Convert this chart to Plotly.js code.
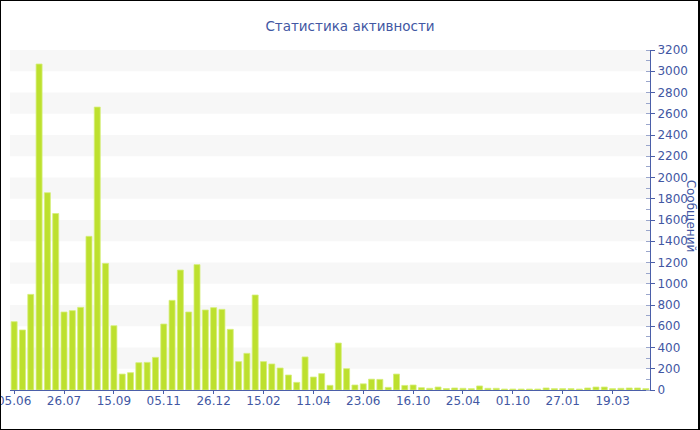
<!DOCTYPE html>
<html>
<head>
<meta charset="utf-8">
<script src="https://cdn.plot.ly/plotly-3.0.1.min.js"></script>
<style>
  html, body { margin: 0; padding: 0; background: #fff; }
  #wrap { position: relative; width: 700px; height: 430px; }
  #chart { width: 700px; height: 430px; }
  #frame { position: absolute; left: 0; top: 0; width: 700px; height: 430px;
           box-sizing: border-box; border: 1px solid #000; border-right-width: 2px;
           pointer-events: none; }
</style>
</head>
<body>
<div id="wrap">
  <div id="chart"></div>
  <div id="frame"></div>
</div>
<script>
// Messages per period (one bar per period, oldest first)
const messages = [
  643, 565, 900, 3068, 1857, 1661, 734, 747, 778, 1446,
  2663, 1192, 605, 150, 163, 257, 260, 307, 621, 844,
  1129, 734, 1180, 753, 775, 759, 571, 267, 345, 894,
  267, 245, 207, 141, 72, 311, 122, 154, 44, 442,
  201, 47, 58, 102, 100, 25, 150, 43, 47, 22,
  16, 28, 14, 19, 16, 13, 38, 16, 16, 9,
  9, 9, 9, 9, 19, 13, 13, 13, 9, 19,
  28, 28, 13, 16, 19, 19, 13
];

// Period index for each bar
const periods = messages.map((_, i) => i);

// Date labels shown under every sixth period
const tickLabels = ['05.06', '26.07', '15.09', '05.11', '26.12', '15.02', '11.04',
                    '23.06', '16.10', '25.04', '01.10', '27.01', '19.03'];
const labelStep = 6;
const tickPositions = tickLabels.map((_, i) => i * labelStep);

// Value axis ticks
const yTicks = [0, 200, 400, 600, 800, 1000, 1200, 1400, 1600, 1800, 2000,
                2200, 2400, 2600, 2800, 3000, 3200];

const blue = '#4257a3';
const axisBlue = '#4b5fa9';
const font = 'DejaVu Sans, Verdana, sans-serif';

// Light stripes behind every other tick interval
const bands = [];
for (let i = 1; i + 1 < yTicks.length; i += 2) {
  bands.push({
    type: 'rect', xref: 'paper', yref: 'y', layer: 'below',
    x0: 0, x1: 1, y0: yTicks[i], y1: yTicks[i + 1],
    fillcolor: '#f7f7f7', line: { width: 0 }
  });
}

const trace = {
  type: 'bar',
  x: periods,
  y: messages,
  marker: { color: '#bde02e', line: { color: '#d6ef7a', width: 0.8 } },
  hoverinfo: 'y'
};

const layout = {
  width: 700,
  height: 430,
  margin: { l: 10, r: 50, t: 50, b: 40, pad: 0 },
  paper_bgcolor: '#fff',
  plot_bgcolor: '#fff',
  bargap: 0.28,
  showlegend: false,
  title: {
    text: 'Статистика активности',
    font: { family: font, size: 13.5, color: blue },
    x: 0.5, xanchor: 'center', y: 0.94, yanchor: 'middle', yref: 'container'
  },
  xaxis: {
    type: 'linear',
    range: [-0.5, messages.length - 0.5],
    tickmode: 'array',
    tickvals: tickPositions,
    ticktext: tickLabels,
    ticks: 'outside', ticklen: 3, tickcolor: axisBlue,
    ticklabeloverflow: 'allow',
    ticklabelstandoff: -3,
    showline: true, linecolor: axisBlue, linewidth: 1,
    showgrid: false, zeroline: false,
    tickfont: { family: font, size: 12, color: blue },
    fixedrange: true
  },
  yaxis: {
    side: 'right',
    range: [0, 3200],
    tickmode: 'array',
    tickvals: yTicks,
    ticks: 'outside', ticklen: 4, tickcolor: axisBlue,
    minor: { dtick: 100, ticks: 'inside', ticklen: 4, tickcolor: '#9aa6cc', showgrid: false },
    showline: true, linecolor: axisBlue, linewidth: 1,
    showgrid: false, zeroline: false,
    tickfont: { family: font, size: 12, color: blue },
    fixedrange: true
  },
  shapes: bands,
  annotations: [{
    text: 'Сообщений',
    xref: 'paper', yref: 'paper',
    x: 1.064, y: 0.51, xanchor: 'center', yanchor: 'middle',
    textangle: 90, showarrow: false,
    font: { family: font, size: 12, color: blue }
  }]
};

Plotly.newPlot('chart', [trace], layout, { displayModeBar: false, staticPlot: true });
</script>
</body>
</html>
